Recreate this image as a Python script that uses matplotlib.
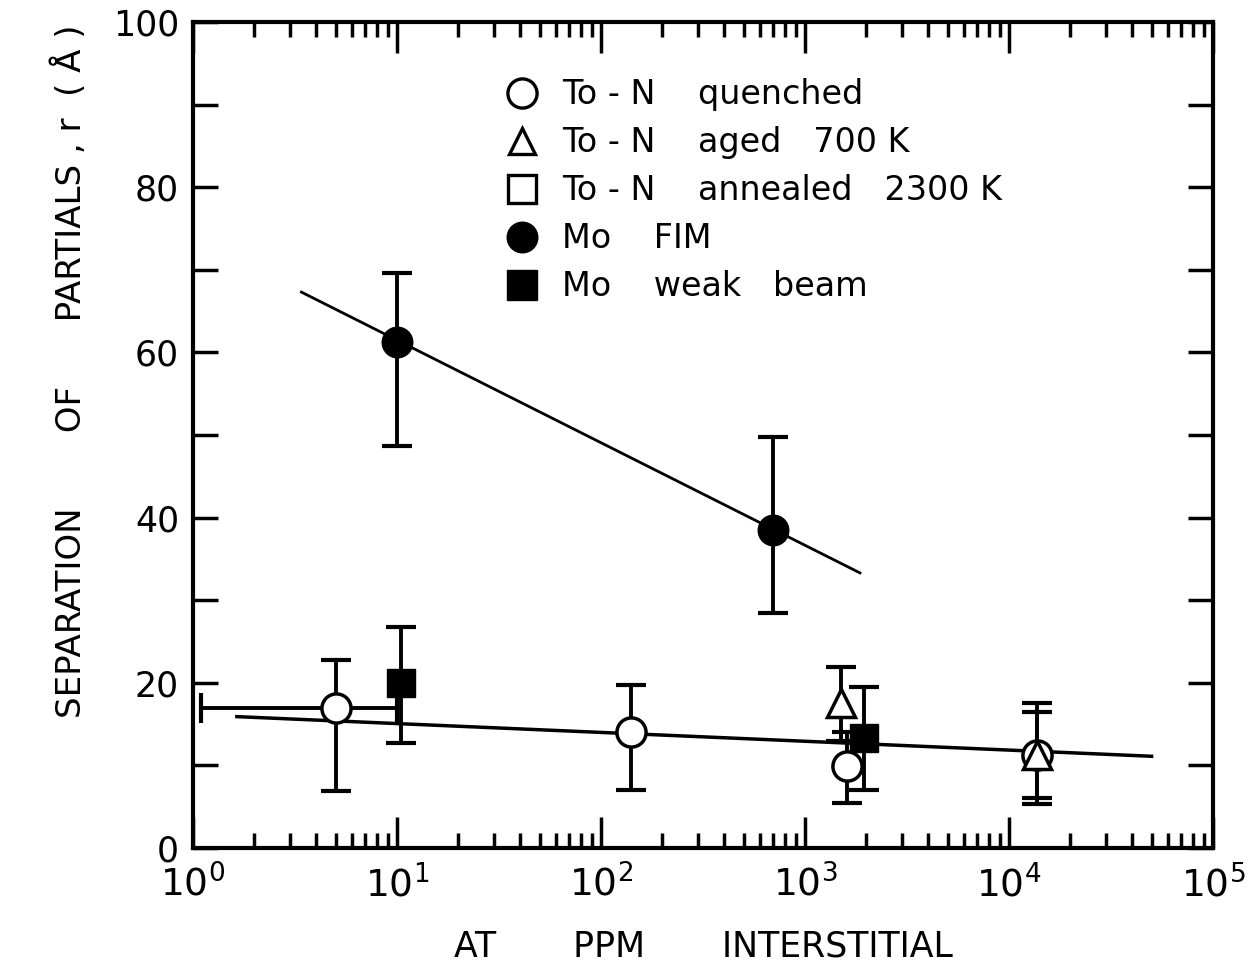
import numpy as np
import matplotlib.pyplot as plt
from matplotlib.lines import Line2D
from matplotlib.ticker import MultipleLocator, LogLocator, NullFormatter

# ---- data ----
# Ta-N quenched (open circles)
quench_x = [5.0, 140, 1600, 13700]
quench_y = [16.9, 14.0, 9.9, 11.3]
quench_lo = [6.9, 7.0, 5.4, 6.0]
quench_hi = [22.8, 19.7, 14.0, 16.5]
# horizontal error on the first quenched point
quench_xlo = 1.1
quench_xhi = 10.0

# Ta-N aged 700 K (open triangles)
aged_x = [1500, 13700]
aged_y = [17.5, 11.3]
aged_lo = [13.0, 5.3]
aged_hi = [21.9, 17.5]

# Mo FIM (filled circles)
fim_x = [10, 700]
fim_y = [61.3, 38.5]
fim_lo = [48.7, 28.4]
fim_hi = [69.6, 49.8]

# Mo weak beam (filled squares)
weak_x = [10.5, 1950]
weak_y = [20.0, 13.3]
weak_lo = [12.7, 7.0]
weak_hi = [26.8, 19.5]

# drawn-in trend lines
fim_line_x = [3.4, 1860]
fim_line_y = [67.3, 33.3]
tan_line_x = [1.64, 50000]
tan_line_y = [15.9, 11.1]

legend_labels = ["To - N    quenched", "To - N    aged   700 K", "To - N    annealed   2300 K",
                 "Mo    FIM", "Mo    weak   beam"]


def yerr(y, lo, hi):
    y = np.array(y)
    return [y - np.array(lo), np.array(hi) - y]


fig = plt.figure(figsize=(12.5, 9.66), dpi=100)
ax = fig.add_axes([0.1544, 0.1222, 0.816, 0.855])

ax.plot(fim_line_x, fim_line_y, color='k', lw=2.0, zorder=2)
ax.plot(tan_line_x, tan_line_y, color='k', lw=2.5, zorder=2)

eb = dict(fmt='none', ecolor='k', elinewidth=2.8, capsize=11, capthick=3, zorder=3)
ax.errorbar(quench_x, quench_y, yerr=yerr(quench_y, quench_lo, quench_hi), **eb)
ax.errorbar([quench_x[0]], [quench_y[0]],
            xerr=[[quench_x[0] - quench_xlo], [quench_xhi - quench_x[0]]], **eb)
ax.errorbar(aged_x, aged_y, yerr=yerr(aged_y, aged_lo, aged_hi), **eb)
ax.errorbar(fim_x, fim_y, yerr=yerr(fim_y, fim_lo, fim_hi), **eb)
ax.errorbar(weak_x, weak_y, yerr=yerr(weak_y, weak_lo, weak_hi), **eb)

ax.plot(quench_x, quench_y, 'o', ms=21, mfc='white', mec='k', mew=2.5, zorder=4)
ax.plot(aged_x, aged_y, '^', ms=20, mfc='white', mec='k', mew=2.5, zorder=5)
ax.plot(fim_x, fim_y, 'o', ms=22, mfc='k', mec='k', zorder=4)
ax.plot(weak_x, weak_y, 's', ms=20, mfc='k', mec='k', zorder=4)

ax.set_xscale('log')
ax.set_xlim(1, 1e5)
ax.set_ylim(0, 100)

ax.yaxis.set_major_locator(MultipleLocator(20))
ax.yaxis.set_minor_locator(MultipleLocator(10))
ax.xaxis.set_major_locator(LogLocator(base=10, numticks=10))
ax.xaxis.set_minor_locator(LogLocator(base=10, subs=np.arange(2, 10), numticks=20))
ax.xaxis.set_minor_formatter(NullFormatter())

ax.tick_params(which='both', direction='in', top=True, right=True, width=2.5, colors='k')
ax.tick_params(axis='y', which='both', length=18, labelsize=25, pad=10)
ax.tick_params(axis='x', which='major', length=22, labelsize=27, pad=12)
ax.tick_params(axis='x', which='minor', length=11)
for sp in ax.spines.values():
    sp.set_linewidth(3)

ax.set_xlabel("AT       PPM       INTERSTITIAL", fontsize=25, labelpad=18)
fig.text(0.056, 1 - 371 / 966, "SEPARATION       OF      PARTIALS , r  ( Å )",
         rotation=90, ha='center', va='center', fontsize=24.5)

handles = [
    Line2D([], [], ls='none', marker='o', ms=21, mfc='white', mec='k', mew=2.4),
    Line2D([], [], ls='none', marker='^', ms=19, mfc='white', mec='k', mew=2.4),
    Line2D([], [], ls='none', marker='s', ms=20, mfc='white', mec='k', mew=2.4),
    Line2D([], [], ls='none', marker='o', ms=22, mfc='k', mec='k'),
    Line2D([], [], ls='none', marker='s', ms=21, mfc='k', mec='k'),
]
ax.legend(handles, legend_labels, loc='upper left', bbox_to_anchor=(0.29, 0.952),
          frameon=False, fontsize=24, handlelength=1.0, handletextpad=0.7,
          labelspacing=0.45, borderpad=0)

fig.savefig('out.png', dpi=100)
